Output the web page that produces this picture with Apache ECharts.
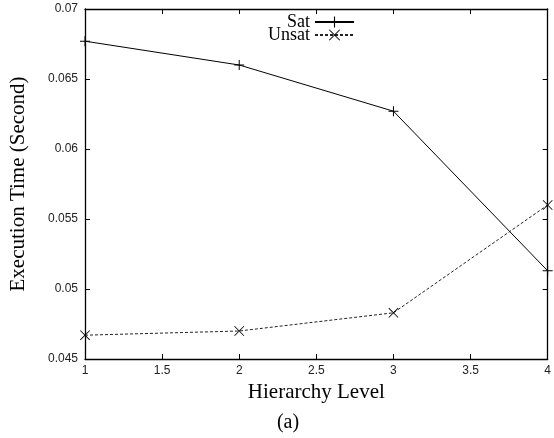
<!DOCTYPE html>
<html lang="en">

<head>
    <meta charset="UTF-8">
    <title>Execution Time</title>
    <script src="https://cdn.jsdelivr.net/npm/echarts@6.0.0/dist/echarts.min.js"></script>
    <style>
        html, body { margin: 0; padding: 0; background: #fff; }
    </style>
</head>

<body>
    <div id="echart" style="width: 554px; height: 438px;"></div>
</body>

<script>
    // hierarchy level on x
    const levels = [1, 2, 3, 4];
    const satTimes = [0.0677, 0.0660, 0.0627, 0.0513];
    const unsatTimes = [0.0467, 0.0470, 0.0483, 0.0560];

    const xTicks = { min: 1, max: 4, step: 0.5 };
    const yTicks = { min: 0.045, max: 0.07, step: 0.005 };

    const plusPath = 'path://M0,4.5H10V5.5H0Z M4.5,0H5.5V10H4.5Z';
    const crossPath = 'path://M0,0.6L0.6,0L10,9.4L9.4,10Z M9.4,0L10,0.6L0.6,10L0,9.4Z';

    const serif = '"Liberation Serif", "DejaVu Serif", serif';
    const sans = '"Liberation Sans", Arial, sans-serif';

    function pairs(xs, ys) {
        return xs.map((x, i) => [x, ys[i]]);
    }

    const tickStyle = { inside: true, length: 5, lineStyle: { color: '#000', width: 1 } };
    const lineAxis = { lineStyle: { color: '#000', width: 1.3 } };

    var myChart = echarts.init(document.getElementById('echart'));

    myChart.setOption({
        animation: false,
        grid: { left: 84, right: 2, top: 9, bottom: 79 },
        legend: [
            {
                data: ['Sat'], right: 199, top: 13, padding: 0, align: 'right',
                itemWidth: 39, itemHeight: 14,
                textStyle: { fontFamily: serif, fontSize: 18, color: '#000', lineHeight: 14 }
            },
            {
                data: ['Unsat'], right: 199, top: 26, padding: 0, align: 'right',
                itemWidth: 39, itemHeight: 14,
                textStyle: { fontFamily: serif, fontSize: 18, color: '#000', lineHeight: 14 }
            }
        ],
        xAxis: [
            {
                type: 'value', min: xTicks.min, max: xTicks.max, interval: xTicks.step,
                name: 'Hierarchy Level', nameLocation: 'middle', nameGap: 16,
                nameTextStyle: { fontFamily: serif, fontSize: 21, color: '#000' },
                axisLine: lineAxis, axisTick: tickStyle, splitLine: { show: false },
                axisLabel: { fontFamily: sans, fontSize: 12, color: '#222', margin: 6 }
            },
            {
                type: 'value', position: 'top', min: xTicks.min, max: xTicks.max, interval: xTicks.step,
                axisLine: lineAxis, axisTick: tickStyle, splitLine: { show: false },
                axisLabel: { show: false }
            }
        ],
        yAxis: [
            {
                type: 'value', min: yTicks.min, max: yTicks.max, interval: yTicks.step,
                name: 'Execution Time (Second)', nameLocation: 'middle', nameGap: 56,
                nameTextStyle: { fontFamily: serif, fontSize: 21, color: '#000' },
                axisLine: lineAxis, axisTick: tickStyle, splitLine: { show: false },
                axisLabel: {
                    fontFamily: sans, fontSize: 12, color: '#222', margin: 7,
                    formatter: v => String(+v.toFixed(3))
                }
            },
            {
                type: 'value', position: 'right', min: yTicks.min, max: yTicks.max, interval: yTicks.step,
                axisLine: lineAxis, axisTick: tickStyle, splitLine: { show: false },
                axisLabel: { show: false }
            }
        ],
        series: [
            {
                name: 'Sat', type: 'line', data: pairs(levels, satTimes),
                symbol: plusPath, symbolSize: 10, clip: false,
                itemStyle: { color: '#000' },
                lineStyle: { color: '#000', width: 1 }
            },
            {
                name: 'Unsat', type: 'line', data: pairs(levels, unsatTimes),
                symbol: crossPath, symbolSize: 10, clip: false,
                itemStyle: { color: '#000' },
                lineStyle: { color: '#222', width: 1, type: [3, 2] }
            }
        ],
        graphic: [
            {
                type: 'text', x: 288, y: 423,
                style: { text: '(a)', fontFamily: serif, fontSize: 20, fill: '#000', align: 'center', verticalAlign: 'middle' }
            }
        ]
    });
</script>

</html>
